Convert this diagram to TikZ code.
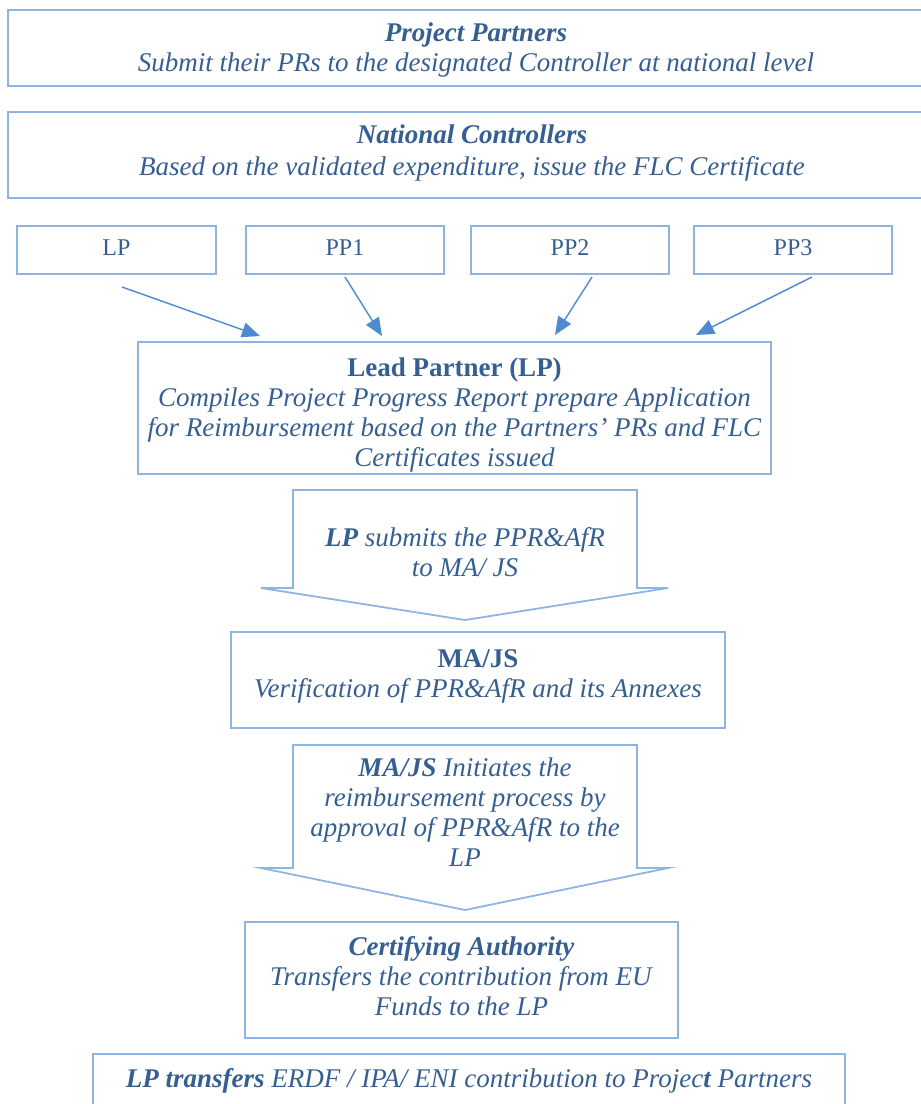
\documentclass[tikz,border=0pt]{standalone}
\usepackage{fontspec}
\setmainfont{Liberation Serif}
\usetikzlibrary{arrows.meta}
\definecolor{txtblue}{HTML}{365F91}
\definecolor{boxblue}{HTML}{8EB4E3}
\definecolor{arrblue}{HTML}{4F8AD0}
\tikzset{
  x=1pt,y=-1pt,
  frame/.style={draw=boxblue,line width=1.8pt},
  txt/.style={text=txtblue,align=center,font=\fontsize{27}{30}\selectfont,inner sep=0pt},
  small/.style={text=txtblue,font=\fontsize{24}{26}\selectfont,inner sep=0pt},
  conn/.style={draw=arrblue,line width=1.4pt,-{Triangle[length=18pt,width=15pt]}},
}
\begin{document}
\begin{tikzpicture}
\useasboundingbox (0,0) rectangle (921,1104);
% top boxes
\draw[frame] (8,10) rectangle (925,86);
\node[txt] (pp) at (476,50) {\textbf{\textit{Project Partners}}\\\textit{Submit their PRs to the designated Controller at national level}};
\draw[frame] (8,112) rectangle (925,198);
\node[txt,font=\fontsize{27}{31.5}\selectfont] (nc) at (472,153) {\textbf{\textit{National Controllers}}\\\textit{Based on the validated expenditure, issue the FLC Certificate}};
% small boxes
\node[frame,minimum width=199pt,minimum height=48pt,inner sep=0pt] (lp) at (116.5,250) {};
\node[small] at (116.5,248) {LP};
\node[frame,minimum width=198pt,minimum height=48pt,inner sep=0pt] (pp1) at (345,250) {};
\node[small] at (345,248) {PP1};
\node[frame,minimum width=198pt,minimum height=48pt,inner sep=0pt] (pp2) at (570,250) {};
\node[small] at (570,248) {PP2};
\node[frame,minimum width=198pt,minimum height=48pt,inner sep=0pt] (pp3) at (793,250) {};
\node[small] at (793,248) {PP3};
% lead partner
\node[frame,minimum width=633pt,minimum height=132pt,inner sep=0pt] (lead) at (454.5,408) {};
\node[txt] (leadt) at (454.5,415) {\textbf{Lead Partner (LP)}\\\textit{Compiles Project Progress Report prepare Application}\\\textit{for Reimbursement based on the Partners' PRs and FLC}\\\textit{Certificates issued}};
% connectors
\coordinate (s1) at (122,287); \coordinate (e1) at (260,336);
\coordinate (s2) at (345,277); \coordinate (e2) at (382,336);
\coordinate (s3) at (592,277); \coordinate (e3) at (555,335);
\coordinate (s4) at (812,277); \coordinate (e4) at (696,335);
\draw[conn] (s1) -- (e1);
\draw[conn] (s2) -- (e2);
\draw[conn] (s3) -- (e3);
\draw[conn] (s4) -- (e4);
% block arrow 1
\draw[frame,line join=miter] (293,490) -- (637,490) -- (637,588) -- (668,588) -- (465,620) -- (261,588) -- (293,588) -- cycle;
\node[txt] (a1) at (465,552) {\textbf{\textit{LP}}\textit{ submits the PPR\&AfR}\\\textit{to MA/ JS}};
% MA/JS
\node[frame,minimum width=494pt,minimum height=96pt,inner sep=0pt] (ma) at (478,680) {};
\node[txt] (mat) at (478,676) {\textbf{MA/JS}\\\textit{Verification of PPR\&AfR and its Annexes}};
% block arrow 2
\draw[frame,line join=miter] (293,745) -- (637,745) -- (637,868) -- (668,868) -- (465,910) -- (261,868) -- (293,868) -- cycle;
\node[txt] (a2) at (465,812.5) {\textbf{\textit{MA/JS}}\textit{ Initiates the}\\\textit{reimbursement process by}\\\textit{approval of PPR\&AfR to the}\\\textit{LP}};
% certifying authority
\node[frame,minimum width=433pt,minimum height=116pt,inner sep=0pt] (ca) at (461.5,980) {};
\node[txt] (cat) at (461.5,976) {\textbf{\textit{Certifying Authority}}\\\textit{Transfers the contribution from EU}\\\textit{Funds to the LP}};
% bottom
\draw[frame] (93,1054) rectangle (845,1112);
\node[txt] (bt) at (469,1081) {\textbf{\textit{LP transfers}}\textit{ ERDF / IPA/ ENI contribution to Projec\textbf{t} Partners}};
\end{tikzpicture}
\end{document}
